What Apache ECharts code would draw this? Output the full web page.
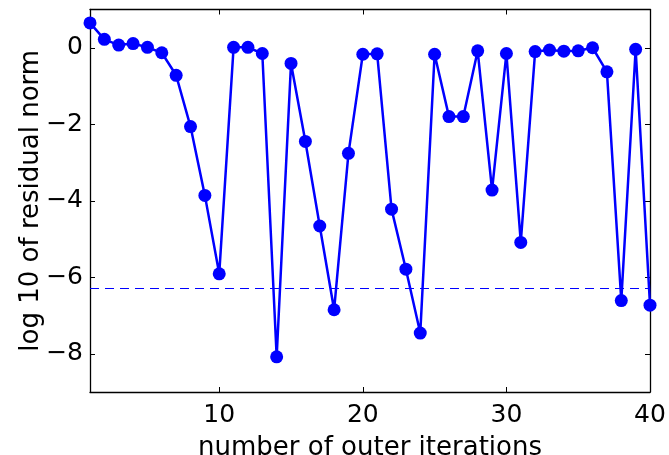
<!DOCTYPE html>
<html><head><meta charset="utf-8">
<script src="https://cdn.jsdelivr.net/npm/echarts@6/dist/echarts.min.js"></script>
<style>html,body{margin:0;padding:0;background:#fff}#c{width:669px;height:455px}</style>
</head><body><div id="c"></div>
<script>
const iterations = [1,2,3,4,5,6,7,8,9,10,11,12,13,14,15,16,17,18,19,20,21,22,23,24,25,26,27,28,29,30,31,32,33,34,35,36,37,38,39,40];
const logResidual = [0.65,0.22,0.07,0.11,0.01,-0.13,-0.72,-2.06,-3.86,-5.91,0.01,0.01,-0.15,-8.08,-0.41,-2.45,-4.66,-6.85,-2.76,-0.17,-0.16,-4.22,-5.79,-7.46,-0.17,-1.80,-1.80,-0.08,-3.72,-0.15,-5.09,-0.10,-0.06,-0.09,-0.08,0.00,-0.63,-6.61,-0.04,-6.73];
const tolerance = -6.28;
const xTicks = [10,20,30,40];
const yTicks = [0,-2,-4,-6,-8];
const xTitle = 'number of outer iterations';
const yTitle = 'log 10 of residual norm';

const FONT = 'DejaVu Sans';
const fmt = v => String(v).replace('-', '\u2212');
const chart = echarts.init(document.getElementById('c'), null, {renderer:'canvas'});
const axisLineStyle = {color:'#000', width:1.3};
chart.setOption({
  animation:false,
  grid:{left:90, right:19, top:9.5, bottom:63, containLabel:false, outerBoundsMode:'none'},
  xAxis:[{
    type:'value', min:1, max:40,
    axisLine:{show:true, onZero:false, lineStyle:axisLineStyle},
    axisTick:{show:true, inside:true, length:5, customValues:xTicks, lineStyle:{color:'#000'}},
    axisLabel:{customValues:xTicks, color:'#000', fontFamily:FONT, fontSize:25, margin:11, formatter:fmt},
    splitLine:{show:false},
    name:xTitle, nameLocation:'middle', nameGap:43, nameMoveOverlap:false,
    nameTextStyle:{color:'#000', fontFamily:FONT, fontSize:26}
  },{
    type:'value', min:1, max:40, position:'top',
    axisLine:{show:true, onZero:false, lineStyle:axisLineStyle},
    axisTick:{show:true, inside:true, length:5, customValues:xTicks, lineStyle:{color:'#000'}},
    axisLabel:{show:false}, splitLine:{show:false}
  }],
  yAxis:[{
    type:'value', min:-9, max:1,
    axisLine:{show:true, onZero:false, lineStyle:axisLineStyle},
    axisTick:{show:true, inside:true, length:5, customValues:yTicks, lineStyle:{color:'#000'}},
    axisLabel:{customValues:yTicks, color:'#000', fontFamily:FONT, fontSize:25, margin:7, formatter:fmt},
    splitLine:{show:false},
    name:yTitle, nameLocation:'middle', nameGap:46, nameRotate:90, nameMoveOverlap:false,
    nameTextStyle:{color:'#000', fontFamily:FONT, fontSize:26}
  },{
    type:'value', min:-9, max:1, position:'right',
    axisLine:{show:true, onZero:false, lineStyle:axisLineStyle},
    axisTick:{show:true, inside:true, length:5, customValues:yTicks, lineStyle:{color:'#000'}},
    axisLabel:{show:false}, splitLine:{show:false}
  }],
  series:[{
    type:'line',
    data:iterations.map((x,i)=>[x, logResidual[i]]),
    symbol:'circle', symbolSize:13,
    lineStyle:{color:'#0000ff', width:2.5},
    itemStyle:{color:'#0000ff'},
    markLine:{
      silent:true, symbol:['none','none'], label:{show:false},
      lineStyle:{color:'#0000ff', width:1.2, type:[9,6]},
      data:[{yAxis:tolerance}]
    }
  }]
});
</script></body></html>
